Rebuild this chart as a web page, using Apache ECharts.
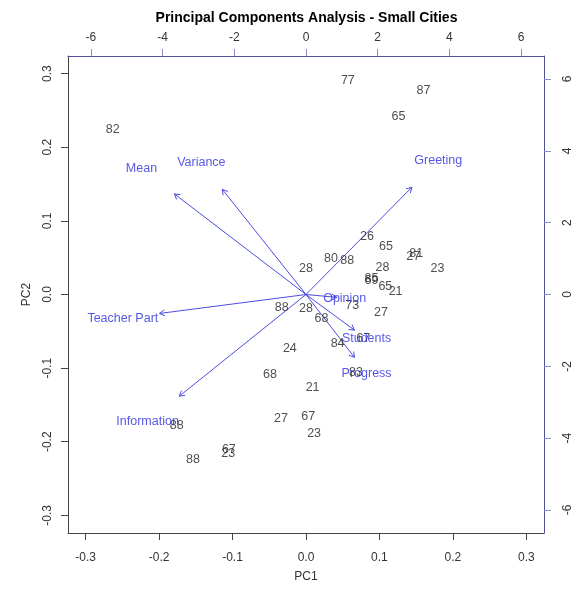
<!DOCTYPE html>
<html>
<head>
<meta charset="utf-8">
<script src="https://cdn.jsdelivr.net/npm/echarts@6/dist/echarts.min.js"></script>
<style>html,body{margin:0;padding:0;background:#fff}#c{width:574px;height:592px}</style>
</head>
<body>
<div id="c"></div>
<script>
// Observations (scores)
const obsLabels = ['82','77','87','65','26','65','81','27','80','88','28','28','23','85','69','65','21','73','27','88','28','68','67','84','83','24','68','21','27','67','23','88','88','67','23'];
const obsPC1 = [-0.263,0.057,0.160,0.126,0.083,0.109,0.150,0.146,0.034,0.056,0.000,0.104,0.179,0.089,0.089,0.108,0.122,0.063,0.102,-0.033,0.000,0.021,0.078,0.043,0.068,-0.022,-0.049,0.009,-0.034,0.003,0.011,-0.176,-0.154,-0.105,-0.106];
const obsPC2 = [0.224,0.290,0.277,0.242,0.079,0.065,0.056,0.052,0.049,0.046,0.035,0.037,0.035,0.022,0.019,0.011,0.004,-0.015,-0.025,-0.018,-0.019,-0.032,-0.060,-0.066,-0.106,-0.074,-0.109,-0.127,-0.169,-0.166,-0.189,-0.178,-0.224,-0.211,-0.216];
// Variables (loadings)
const varNames = ['Mean','Variance','Greeting','Teacher Part','Information','Opinion','Students','Progress'];
const varPC1 = [-4.59,-2.92,3.69,-5.11,-4.42,1.08,1.69,1.69];
const varPC2 = [3.50,3.66,3.73,-0.66,-3.54,-0.10,-1.24,-2.19];
// Tick labels
const pcTicks = [-0.3,-0.2,-0.1,0.0,0.1,0.2,0.3];
const varTicks = [-6,-4,-2,0,2,4,6];

const FONT = 'Liberation Sans, Arial, Helvetica, sans-serif';
const BLUE = '#2c2ce2';
const ARROW = '#4d4de0';
const AX2 = '#50509e';

const chart = echarts.init(document.getElementById('c'), null, {renderer:'canvas'});
const obsData = obsLabels.map((l,i)=>({value:[obsPC1[i],obsPC2[i]], name:l}));
const varData = varNames.map((n,i)=>({value:[varPC1[i],varPC2[i]], name:n}));

const pcLim = 0.324, varLim = 6.64;
const baseAxis = {
  type:'value', splitLine:{show:false}, scale:false
};
chart.setOption({
  backgroundColor:'#fff',
  animation:false,
  graphic:[{type:'text', x:306.5, y:18, style:{text:'Principal Components Analysis - Small Cities', textAlign:'center', textVerticalAlign:'middle', font:'bold 14px '+FONT, fill:'#000'}}],
  grid:{left:68, right:29, top:56, bottom:59, containLabel:false},
  xAxis:[
    Object.assign({}, baseAxis, {position:'bottom', min:-pcLim, max:pcLim,
      axisLine:{show:true, onZero:false, lineStyle:{color:'#444', width:1}},
      axisTick:{show:true, length:7, customValues:pcTicks, lineStyle:{color:'#444'}},
      axisLabel:{customValues:pcTicks, margin:19, color:'#333', fontSize:12, fontFamily:FONT, formatter:v=>v.toFixed(1)},
      name:'PC1', nameLocation:'middle', nameGap:38, nameTextStyle:{color:'#333', fontSize:12, fontFamily:FONT}}),
    Object.assign({}, baseAxis, {position:'top', min:-varLim, max:varLim,
      axisLine:{show:true, onZero:false, lineStyle:{color:AX2, width:1}},
      axisTick:{show:true, length:7, customValues:varTicks, lineStyle:{color:'#8a8ad0'}},
      axisLabel:{customValues:varTicks, margin:12, color:'#333', fontSize:12, fontFamily:FONT, formatter:v=>String(v)}})
  ],
  yAxis:[
    Object.assign({}, baseAxis, {position:'left', min:-pcLim, max:pcLim,
      axisLine:{show:true, onZero:false, lineStyle:{color:'#444', width:1}},
      axisTick:{show:true, length:7, customValues:pcTicks, lineStyle:{color:'#444'}},
      axisLabel:{customValues:pcTicks, rotate:90, margin:14, color:'#333', fontSize:12, fontFamily:FONT, formatter:v=>v.toFixed(1)},
      name:'PC2', nameLocation:'middle', nameGap:35, nameRotate:90, nameTextStyle:{color:'#333', fontSize:12, fontFamily:FONT}}),
    Object.assign({}, baseAxis, {position:'right', min:-varLim, max:varLim,
      axisLine:{show:true, onZero:false, lineStyle:{color:AX2, width:1}},
      axisTick:{show:true, length:7, customValues:varTicks, lineStyle:{color:'#8a8ad0'}},
      axisLabel:{customValues:varTicks, rotate:90, margin:18, color:'#333', fontSize:12, fontFamily:FONT, formatter:v=>String(v)}})
  ],
  series:[
    {
      type:'scatter', xAxisIndex:0, yAxisIndex:0, data:obsData,
      symbol:'circle', symbolSize:1, itemStyle:{color:'rgba(0,0,0,0)'},
      label:{show:true, position:'inside', formatter:p=>p.name, color:'#222', fontSize:12.5, fontFamily:FONT},
      emphasis:{disabled:true}, silent:true, z:3
    },
    {
      type:'custom', xAxisIndex:1, yAxisIndex:1, data:varData.map(d=>d.value),
      renderItem:function(params, api){
        const x = api.value(0), y = api.value(1);
        const o = api.coord([0,0]);
        const t = api.coord([x*0.8, y*0.8]);
        const ang = Math.atan2(t[1]-o[1], t[0]-o[0]);
        const L = 6, a = Math.PI/6;
        const h1 = [t[0]-L*Math.cos(ang-a), t[1]-L*Math.sin(ang-a)];
        const h2 = [t[0]-L*Math.cos(ang+a), t[1]-L*Math.sin(ang+a)];
        return {type:'group', children:[
          {type:'line', shape:{x1:o[0],y1:o[1],x2:t[0],y2:t[1]}, style:{stroke:ARROW, lineWidth:1}},
          {type:'polyline', shape:{points:[h1,t,h2]}, style:{stroke:ARROW, fill:null, lineWidth:1}}
        ]};
      },
      silent:true, z:2
    },
    {
      type:'scatter', xAxisIndex:1, yAxisIndex:1, data:varData,
      symbol:'circle', symbolSize:1, itemStyle:{color:'rgba(0,0,0,0)'},
      label:{show:true, position:'inside', formatter:p=>p.name, color:BLUE, fontSize:12.5, fontFamily:FONT},
      emphasis:{disabled:true}, silent:true, z:4
    }
  ]
});
</script>
</body>
</html>
